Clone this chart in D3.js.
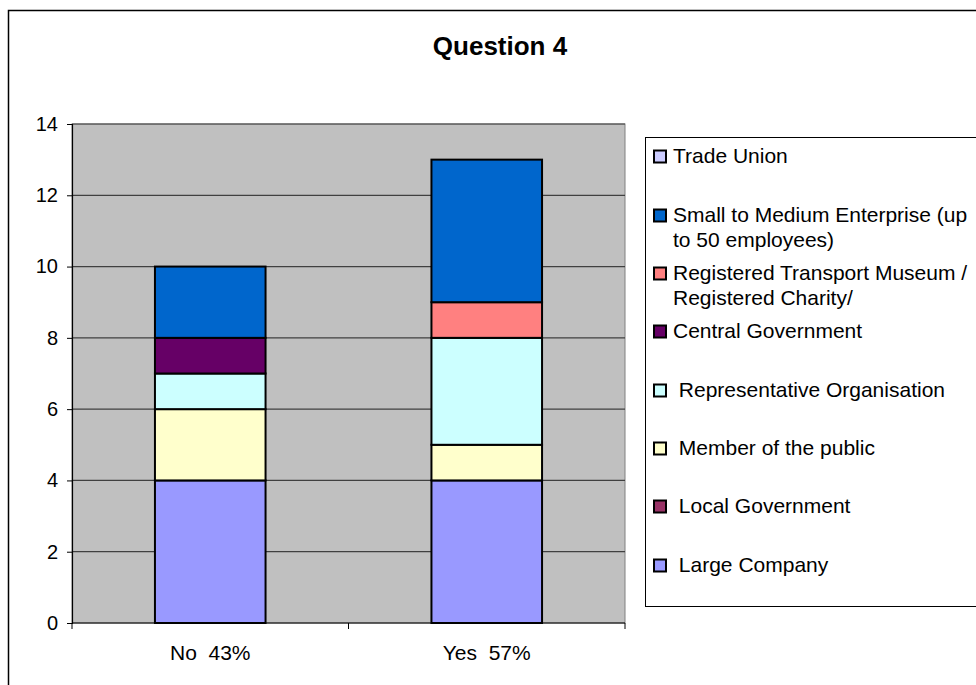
<!DOCTYPE html>
<html>
<head>
<meta charset="utf-8">
<script src="https://cdn.jsdelivr.net/npm/d3@7"></script>
<style>
  html, body { margin: 0; padding: 0; background: #fff; }
  svg { display: block; font-family: "Liberation Sans", Arial, sans-serif; }
</style>
</head>
<body>
<svg id="chart" width="976" height="685"></svg>
<script>
// Response groups along the x axis
const categories = ["No  43%", "Yes  57%"];

// Respondent types, stacked from the bottom up
const seriesNames = [
  "Large Company",
  "Local Government",
  "Member of the public",
  "Representative Organisation",
  "Central Government",
  "Registered Transport Museum / Registered Charity/",
  "Small to Medium Enterprise (up to 50 employees)",
  "Trade Union"
];

// Counts per respondent type, one entry per category (No, Yes)
const largeCompany      = [4, 4];
const localGovernment   = [0, 0];
const memberOfPublic    = [2, 1];
const representativeOrg = [1, 3];
const centralGovernment = [1, 0];
const registeredCharity = [0, 1];
const smallMedium       = [2, 4];
const tradeUnion        = [0, 0];

const seriesValues = [largeCompany, localGovernment, memberOfPublic, representativeOrg,
                      centralGovernment, registeredCharity, smallMedium, tradeUnion];

const seriesColors = ["#9999FF", "#993366", "#FFFFCC", "#CCFFFF",
                      "#660066", "#FF8080", "#0066CC", "#CCCCFF"];

// Legend lines, top to bottom (reverse of stack order)
const legendLines = [
  ["Trade Union"],
  ["Small to Medium Enterprise (up", "to 50 employees)"],
  ["Registered Transport Museum /", "Registered Charity/"],
  ["Central Government"],
  [" Representative Organisation"],
  [" Member of the public"],
  [" Local Government"],
  [" Large Company"]
];
const legendSeries = [7, 6, 5, 4, 3, 2, 1, 0];

const yTicks = [0, 2, 4, 6, 8, 10, 12, 14];

const svg = d3.select("#chart");

// Outer chart frame
svg.append("rect")
  .attr("x", 8.5).attr("y", 10.5).attr("width", 1000).attr("height", 700)
  .attr("fill", "#fff").attr("stroke", "#000").attr("stroke-width", 1.5);

// Title
svg.append("text")
  .attr("x", 500).attr("y", 55)
  .attr("text-anchor", "middle")
  .attr("font-size", 26).attr("font-weight", "bold")
  .text("Question 4");

const plot = { left: 72, right: 625, top: 124, bottom: 623 };

const x = d3.scaleBand()
  .domain(categories)
  .range([plot.left, plot.right])
  .paddingInner(0.6)
  .paddingOuter(0.3);

const y = d3.scaleLinear().domain([0, 14]).range([plot.bottom, plot.top]);

// Plot background
svg.append("rect")
  .attr("x", plot.left).attr("y", plot.top)
  .attr("width", plot.right - plot.left).attr("height", plot.bottom - plot.top)
  .attr("fill", "#C0C0C0").attr("stroke", "#808080").attr("stroke-width", 1);

// Horizontal gridlines
svg.append("g")
  .selectAll("line")
  .data(yTicks.filter(d => d > 0))
  .join("line")
  .attr("x1", plot.left).attr("x2", plot.right)
  .attr("y1", d => y(d)).attr("y2", d => y(d))
  .attr("stroke", "#404040").attr("stroke-width", 1.2);

// Stacked bars
const table = categories.map((c, i) => {
  const row = { category: c };
  seriesNames.forEach((s, k) => { row[s] = seriesValues[k][i]; });
  return row;
});
const stacked = d3.stack().keys(seriesNames)(table);

svg.append("g")
  .selectAll("g")
  .data(stacked)
  .join("g")
  .attr("fill", (d, k) => seriesColors[k])
  .selectAll("rect")
  .data(d => d.filter(p => p[1] - p[0] > 0))
  .join("rect")
  .attr("x", d => x(d.data.category))
  .attr("width", x.bandwidth())
  .attr("y", d => y(d[1]))
  .attr("height", d => y(d[0]) - y(d[1]))
  .attr("stroke", "#000").attr("stroke-width", 2);

// Y axis
const yAxis = d3.axisLeft(y).tickValues(yTicks).tickSize(5).tickPadding(9);
const gy = svg.append("g")
  .attr("transform", `translate(${plot.left},0)`)
  .call(yAxis);
gy.select(".domain").attr("stroke", "#000").attr("stroke-width", 1.2);
gy.selectAll(".tick line").attr("stroke", "#000");
gy.selectAll(".tick text")
  .attr("font-size", 20).attr("fill", "#000")
  .attr("font-family", "Liberation Sans, Arial, sans-serif");

// X axis with category separators
const gx = svg.append("g")
  .attr("transform", `translate(0,${plot.bottom})`);
gx.append("line")
  .attr("x1", plot.left).attr("x2", plot.right)
  .attr("stroke", "#000").attr("stroke-width", 1.2);
const edges = [plot.left, plot.left + (plot.right - plot.left) / 2, plot.right];
gx.selectAll("line.sep")
  .data(edges)
  .join("line")
  .attr("class", "sep")
  .attr("x1", d => d).attr("x2", d => d)
  .attr("y1", 0).attr("y2", 6)
  .attr("stroke", "#000");
gx.selectAll("text")
  .data(categories)
  .join("text")
  .attr("x", d => x(d) + x.bandwidth() / 2)
  .attr("y", 37)
  .attr("text-anchor", "middle")
  .attr("font-size", 21)
  .style("white-space", "pre")
  .text(d => d);

// Legend
const legend = svg.append("g");
legend.append("rect")
  .attr("x", 645.5).attr("y", 137.5).attr("width", 400).attr("height", 469)
  .attr("fill", "#fff").attr("stroke", "#000").attr("stroke-width", 1);

const baselines = [163, 222, 280, 338, 397, 455, 513, 572];
legendLines.forEach((lines, i) => {
  const g = legend.append("g");
  g.append("rect")
    .attr("x", 654).attr("y", baselines[i] - 12.5)
    .attr("width", 12).attr("height", 12)
    .attr("fill", seriesColors[legendSeries[i]])
    .attr("stroke", "#000").attr("stroke-width", 2);
  lines.forEach((t, j) => {
    g.append("text")
      .attr("x", 673).attr("y", baselines[i] + j * 25)
      .attr("font-size", 21)
      .style("white-space", "pre")
      .text(t);
  });
});
</script>
</body>
</html>
